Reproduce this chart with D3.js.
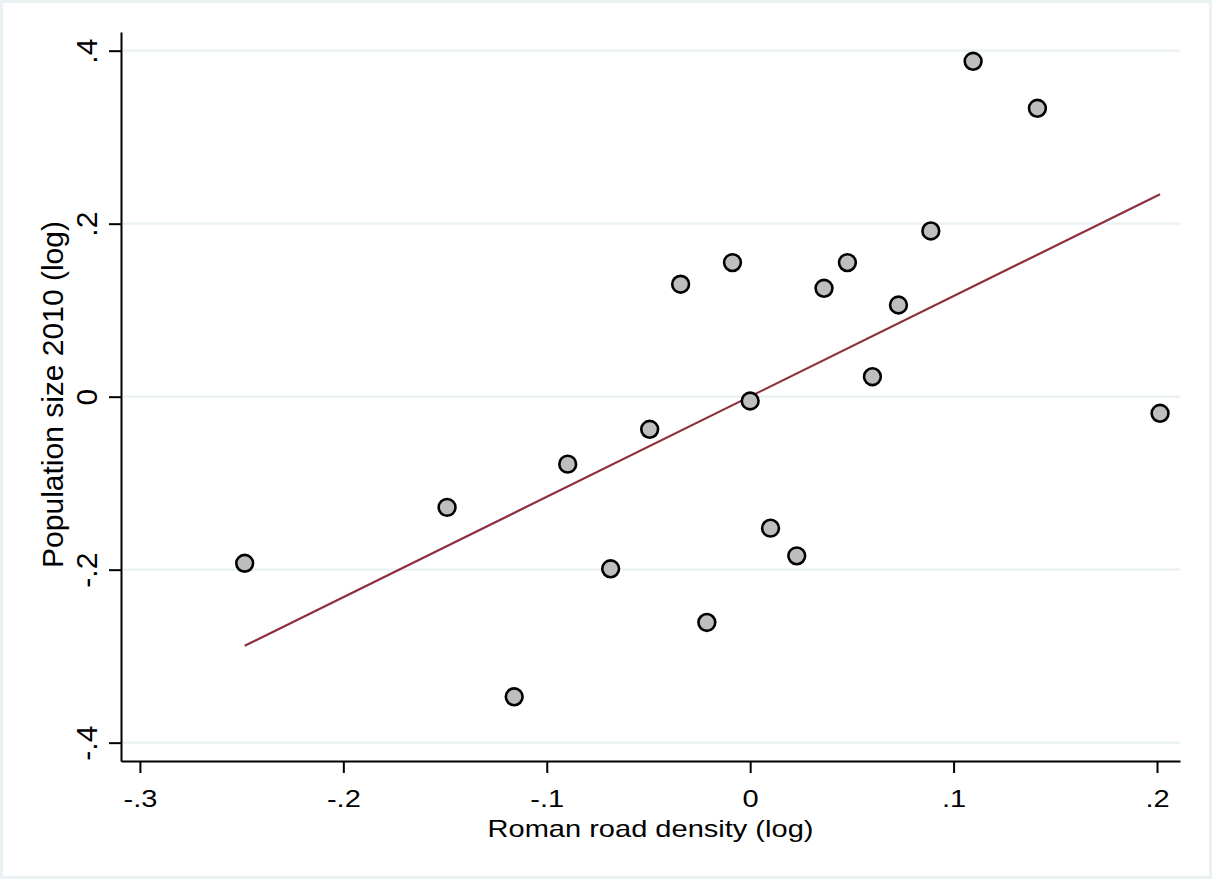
<!DOCTYPE html>
<html>

<head>
    <meta charset="utf-8">
    <script src="https://d3js.org/d3.v7.min.js"></script>
    <style>
        body { margin: 0; background: #fff; }
        text { font-family: "Liberation Sans", Arial, sans-serif; fill: #000; }
    </style>
</head>

<body>
    <div id="viz"></div>

    <script>

        // points
        var roadDensity = [-0.2485, -0.149, -0.116, -0.0897, -0.0686, -0.0494, -0.0342, -0.0213, -0.0087, 0.0,
            0.010, 0.0229, 0.0363, 0.0478, 0.0601, 0.0729, 0.0888, 0.1096, 0.1412, 0.2015];
        var popSize = [-0.1926, -0.128, -0.347, -0.078, -0.199, -0.0377, 0.130, -0.261, 0.155, -0.005,
            -0.152, -0.184, 0.1253, 0.155, 0.0231, 0.106, 0.1916, 0.3877, 0.3334, -0.0192];

        // fitted line endpoints
        var fitX = [-0.2485, 0.2015];
        var fitY = [-0.288, 0.234];

        var xTicks = [-0.3, -0.2, -0.1, 0, 0.1, 0.2];
        var xTickLabels = ["-.3", "-.2", "-.1", "0", ".1", ".2"];
        var yTicks = [0.4, 0.2, 0, -0.2, -0.4];
        var yTickLabels = [".4", ".2", "0", "-.2", "-.4"];

        var W = 1212, H = 879;
        var margin = { top: 32, right: 32, bottom: 118, left: 121 },
            width = W - margin.left - margin.right,
            height = H - margin.top - margin.bottom;

        var svgRoot = d3.select("#viz")
            .append("svg")
            .attr("width", W)
            .attr("height", H);

        // light outer frame
        svgRoot.append("rect")
            .attr("x", 1.5).attr("y", 1.5)
            .attr("width", W - 3).attr("height", H - 3)
            .attr("fill", "#fff")
            .attr("stroke", "#eaf2f3")
            .attr("stroke-width", 3);

        var svg = svgRoot.append("g")
            .attr("transform", "translate(" + margin.left + "," + margin.top + ")");

        var x = d3.scaleLinear()
            .domain([-0.3093, 0.2113])
            .range([0, width]);
        var y = d3.scaleLinear()
            .domain([-0.4212, 0.4216])
            .range([height, 0]);

        // gridlines
        svg.selectAll(".grid")
            .data(yTicks)
            .enter()
            .append("line")
            .attr("x1", 0).attr("x2", width)
            .attr("y1", function (d) { return y(d) })
            .attr("y2", function (d) { return y(d) })
            .attr("stroke", "#eaf2f3")
            .attr("stroke-width", 2.2);

        // x axis
        var xAxis = svg.append("g")
            .attr("transform", "translate(0," + height + ")")
            .call(d3.axisBottom(x).tickValues(xTicks).tickSize(12).tickSizeOuter(0)
                .tickFormat(function (d, i) { return xTickLabels[i] }));
        xAxis.select(".domain").attr("stroke-width", 2);
        xAxis.selectAll(".tick line").attr("stroke-width", 2);
        xAxis.selectAll(".tick text")
            .attr("y", null).attr("dy", null)
            .attr("font-size", 24)
            .attr("transform", "translate(0,46) scale(1.21,1)");

        // y axis
        var yAxis = svg.append("g")
            .call(d3.axisLeft(y).tickValues(yTicks).tickSize(12).tickSizeOuter(0)
                .tickFormat(function (d, i) { return yTickLabels[i] }));
        yAxis.select(".domain").attr("stroke-width", 2);
        yAxis.selectAll(".tick line").attr("stroke-width", 2);
        yAxis.selectAll(".tick text")
            .attr("x", null).attr("dy", null)
            .attr("font-size", 30)
            .attr("text-anchor", "middle")
            .attr("transform", "translate(-24,0) rotate(-90)");

        // axis titles
        svg.append("text")
            .attr("text-anchor", "middle")
            .attr("font-size", 24)
            .attr("transform", "translate(" + (width / 2) + "," + (height + 76) + ") scale(1.21,1)")
            .text("Roman road density (log)");

        svg.append("text")
            .attr("text-anchor", "middle")
            .attr("font-size", 30)
            .attr("transform", "translate(-58," + (height / 2 - 2) + ") rotate(-90)")
            .text("Population size 2010 (log)");

        // fitted line
        var fitData = fitX.map(function (d, i) { return { x: d, y: fitY[i] } });
        svg.append("path")
            .datum(fitData)
            .attr("fill", "none")
            .attr("stroke", "#8f2f3d")
            .attr("stroke-width", 2.2)
            .attr("d", d3.line().x(function (d) { return x(d.x) }).y(function (d) { return y(d.y) }));

        // scatter
        var pts = roadDensity.map(function (d, i) { return { x: d, y: popSize[i] } });
        svg.selectAll(".pt")
            .data(pts)
            .enter()
            .append("circle")
            .attr("cx", function (d) { return x(d.x) })
            .attr("cy", function (d) { return y(d.y) })
            .attr("r", 8.4)
            .attr("fill", "#bebebe")
            .attr("stroke", "#000")
            .attr("stroke-width", 2.6);

    </script>
</body>

</html>
